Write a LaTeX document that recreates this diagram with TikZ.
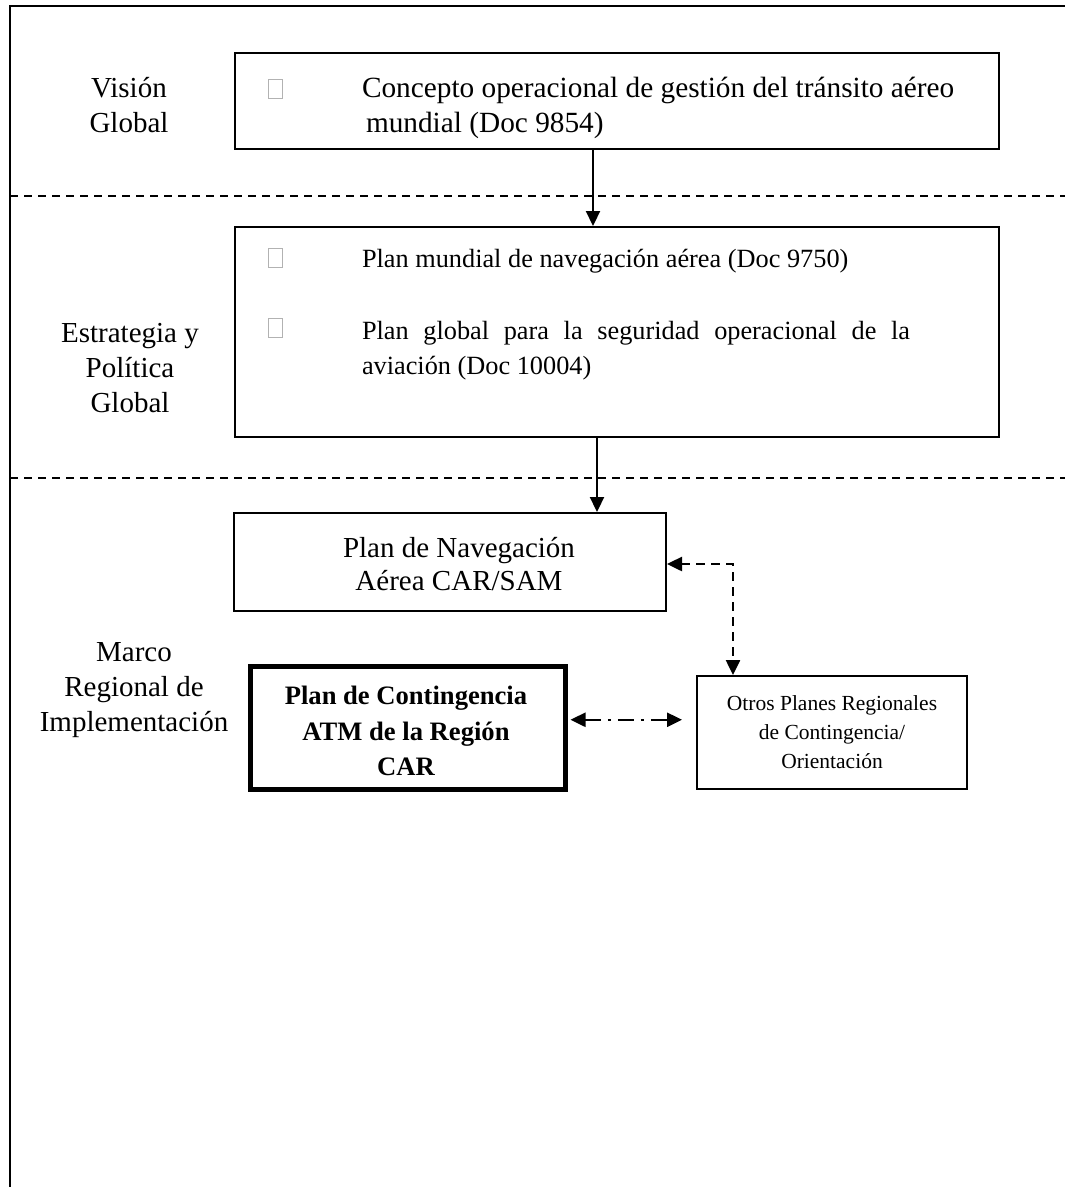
\documentclass[tikz,border=0pt]{standalone}
\usepackage{fontspec}
\setmainfont{Liberation Serif}
\usetikzlibrary{arrows.meta}

\begin{document}
\begin{tikzpicture}[x=1pt,y=-1pt,line width=2pt,>={Triangle[width=14pt,length=15pt]}]
  \tikzstyle{every node}=[font=\fontsize{26.3}{35}\selectfont]
  \tikzstyle{caja}=[draw,rectangle,inner sep=0,anchor=north west,align=center]
  \tikzstyle{texto}=[inner sep=0,anchor=base west]
  \tikzstyle{etiqueta}=[inner sep=0,align=center,font=\fontsize{29}{35}\selectfont]
  \tikzstyle{vineta}=[draw=gray!60,line width=0.8pt,minimum width=14pt,minimum height=19pt,inner sep=0]
  \tikzstyle{separador}=[line width=1.6pt,dash pattern=on 8pt off 6pt]
  \useasboundingbox (0,0) rectangle (1065,1187);
  %
  \draw[line width=2.5pt] (1065,6) -- (10,6) -- (10,1187);
  \draw[separador] (10,196) -- (1065,196);
  \draw[separador] (10,478) -- (1065,478);
  %
  \node [etiqueta] (lvision)   at (129,105.5) {Visión\\Global};
  \node [etiqueta] (lestrat)   at (130,368)   {Estrategia y\\Política\\Global};
  \node [etiqueta] (lmarco)    at (134,690)   {Marco\\Regional de\\Implementación};
  %
  \node [caja,minimum width=764pt,minimum height=96pt]  (concepto) at (234,52)  {};
  \node [vineta] (b1) at (275.5,88.5) {};
  \node [texto,font=\fontsize{29.3}{35}\selectfont] (t1a) at (361,97)  {Concepto operacional de gestión del tránsito aéreo};
  \node [texto,font=\fontsize{29.3}{35}\selectfont] (t1b) at (365,132) {mundial (Doc 9854)};
  %
  \node [caja,minimum width=764pt,minimum height=210pt] (planes) at (234,226) {};
  \node [vineta] (b2) at (275.5,258) {};
  \node [texto]  (t2a) at (361,267) {Plan mundial de navegación aérea (Doc 9750)};
  \node [vineta] (b3) at (275.5,328) {};
  \node [texto]  (t3a) at (361,339) {\makebox[548pt][s]{Plan global para la seguridad operacional de la}};
  \node [texto]  (t3b) at (361,374) {aviación (Doc 10004)};
  %
  \node [caja,minimum width=432pt,minimum height=98pt] (navcarsam) at (233,512) {};
  \node [etiqueta,font=\fontsize{29}{33}\selectfont] (tnav) at (459,564) {Plan de Navegación\\Aérea CAR/SAM};
  \node [caja,line width=4.5pt,minimum width=315pt,minimum height=123pt] (contcar) at (248,664) {};
  \node [etiqueta,font=\fontsize{26.6}{35.5}\selectfont\bfseries] (tcont) at (406,731) {Plan de Contingencia\\ATM de la Región\\CAR};
  \node [caja,minimum width=270pt,minimum height=113pt,font=\fontsize{21.5}{29}\selectfont]
        (otros) at (696,675) {Otros Planes Regionales\\de Contingencia/\\Orientación};
  %
  \coordinate (a1) at ([xshift=-24pt]concepto.south);
  \coordinate (a2) at ([xshift=-20pt]planes.south);
  \coordinate (d4) at ([xshift=37pt]otros.north west);
  \coordinate (c5) at ([yshift=8pt]contcar.east);
  %
  \draw[->,line width=2.2pt] (a1) -- (a1 |- planes.north);
  \draw[->,line width=2.2pt] (a2) -- (a2 |- navcarsam.north);
  \draw[<->,line width=2.5pt,dash pattern=on 9pt off 6pt] ([yshift=-2pt]navcarsam.east) -| (d4);
  \draw[<->,line width=2.5pt,dash pattern=on 16pt off 7pt on 3pt off 7pt,shorten <=3pt,shorten >=14pt]
        (c5) -- (c5 -| otros.west);
\end{tikzpicture}
\end{document}
